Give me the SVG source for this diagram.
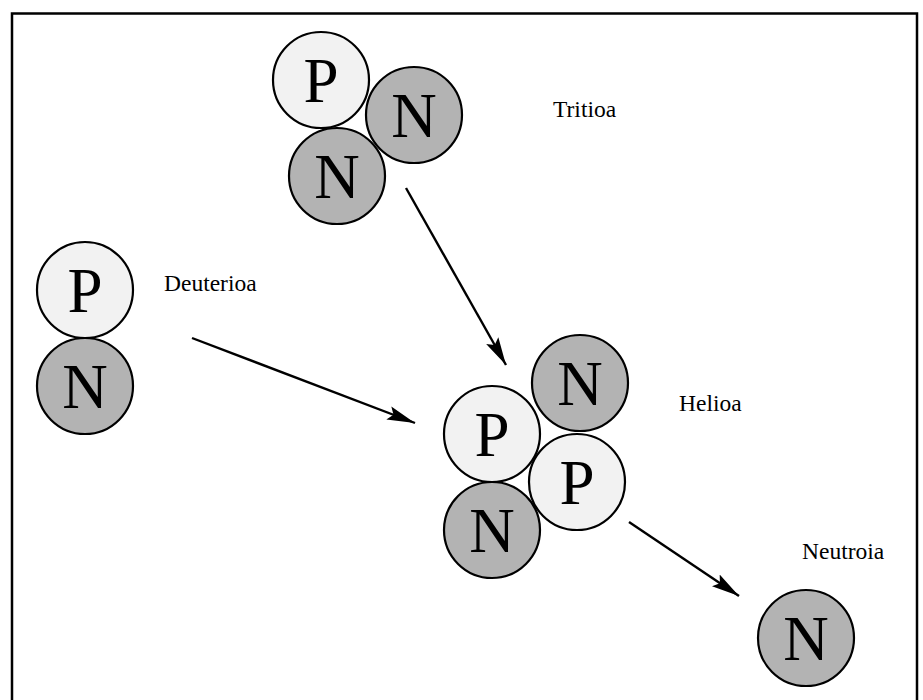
<svg xmlns="http://www.w3.org/2000/svg" width="923" height="700" viewBox="0 0 923 700">
<style>
.p{fill:#f2f2f2;stroke:#000;stroke-width:2.2}
.n{fill:#b3b3b3;stroke:#000;stroke-width:2.2}
.big{font-family:"Liberation Serif","Times New Roman",serif;font-size:63px;text-anchor:middle;fill:#000}
.lbl{font-family:"Liberation Serif","Times New Roman",serif;font-size:23.5px;fill:#000}
.arr{stroke:#000;stroke-width:2.4;fill:none;marker-end:url(#ah)}
</style>
<defs>
<marker id="ah" markerUnits="userSpaceOnUse" markerWidth="30" markerHeight="16" refX="28" refY="7" orient="auto" viewBox="0 0 30 14">
<path d="M0,0 L28,7 L0,14 L5,7 Z" fill="#000"/>
</marker>
</defs>
<rect x="12" y="13.5" width="905" height="700" fill="#fff" stroke="#000" stroke-width="2.5"/>
<g id="tritioa">
<circle class="p" cx="321" cy="80" r="48"/><text class="big" x="321" y="102">P</text>
<circle class="n" cx="414" cy="115" r="48"/><text class="big" x="414" y="137">N</text>
<circle class="n" cx="337" cy="176" r="48"/><text class="big" x="337" y="198">N</text>
<text class="lbl" x="553" y="117">Tritioa</text>
</g>
<g id="deuterioa">
<circle class="p" cx="85" cy="290" r="48"/><text class="big" x="85" y="312">P</text>
<circle class="n" cx="85" cy="386" r="48"/><text class="big" x="85" y="408">N</text>
<text class="lbl" x="164" y="291">Deuterioa</text>
</g>
<g id="helioa">
<circle class="n" cx="580" cy="383" r="48"/><text class="big" x="580" y="405">N</text>
<circle class="p" cx="492" cy="434" r="48"/><text class="big" x="492" y="456">P</text>
<circle class="n" cx="492" cy="530" r="48"/><text class="big" x="492" y="552">N</text>
<circle class="p" cx="577" cy="482" r="48"/><text class="big" x="577" y="504">P</text>
<text class="lbl" x="679" y="411">Helioa</text>
</g>
<g id="neutroia">
<circle class="n" cx="806" cy="638" r="48"/><text class="big" x="806" y="660">N</text>
<text class="lbl" x="802" y="559">Neutroia</text>
</g>
<g id="connectors">
<line class="arr" x1="406" y1="188" x2="506" y2="365"/>
<line class="arr" x1="192" y1="338" x2="415" y2="423"/>
<line class="arr" x1="629" y1="522" x2="739" y2="596"/>
</g>
</svg>
